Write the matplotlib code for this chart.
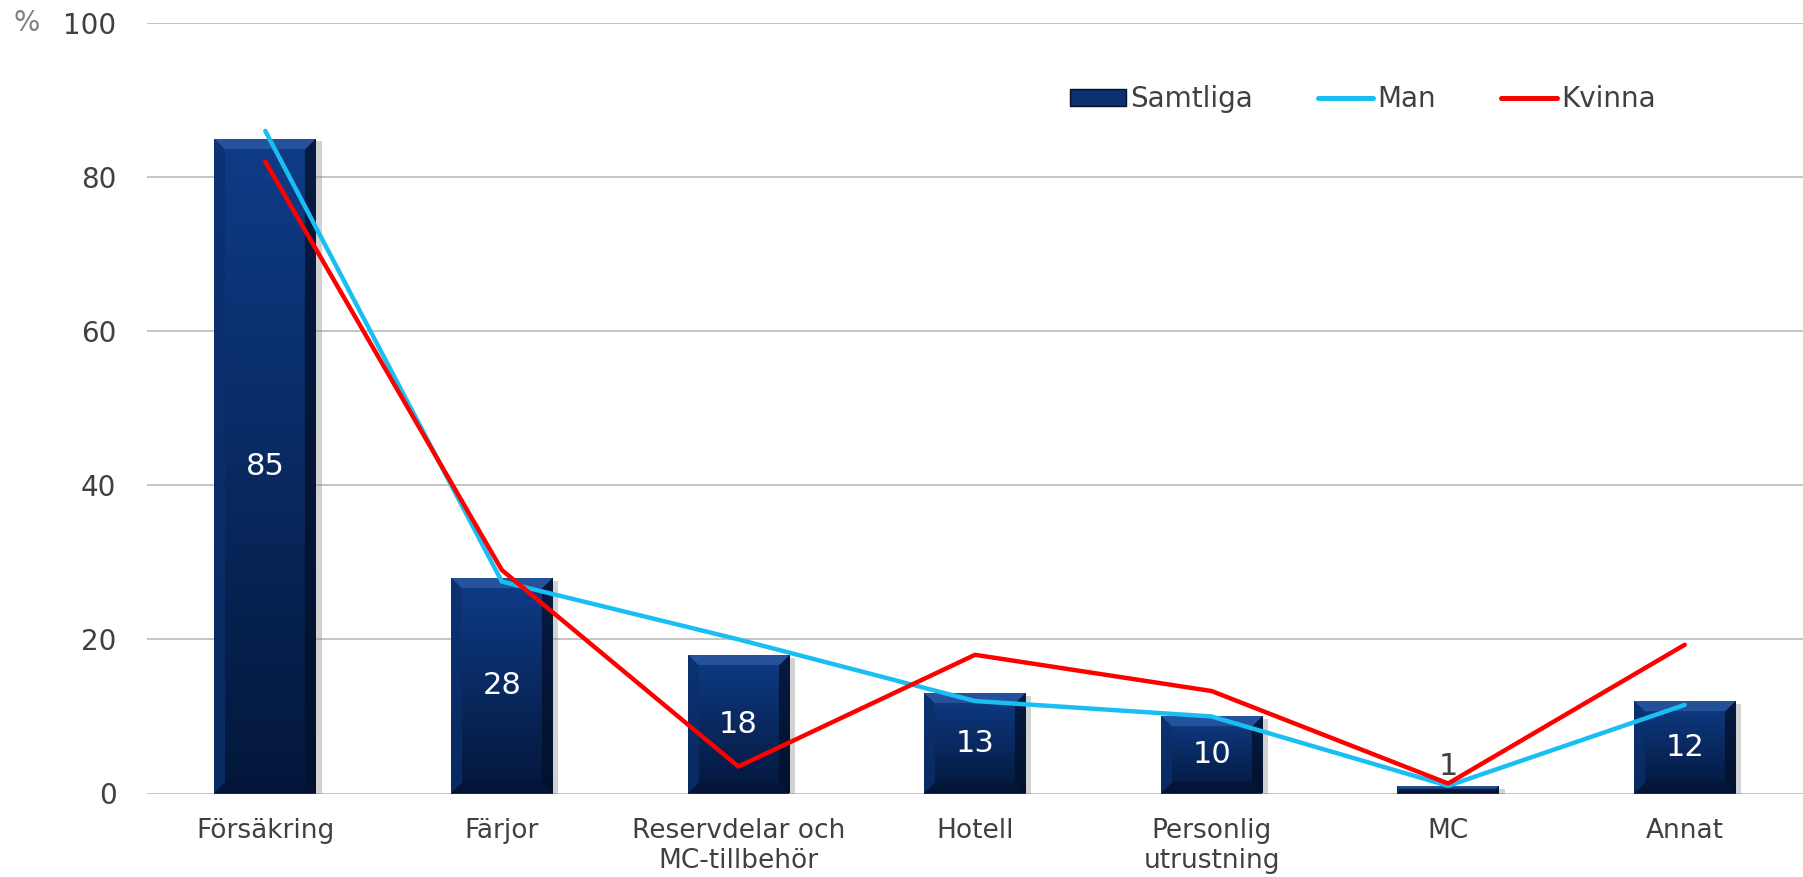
import numpy as np
import matplotlib
matplotlib.use("Agg")
import matplotlib.pyplot as plt
from matplotlib.colors import to_rgb
from matplotlib.patches import Patch
from matplotlib.lines import Line2D
import matplotlib.patheffects as pe

# data
categories = ["Försäkring", "Färjor", "Reservdelar och\nMC-tillbehör", "Hotell",
              "Personlig\nutrustning", "MC", "Annat"]
samtliga = [85, 28, 18, 13, 10, 1, 12]
man = [86, 27.5, 20, 12, 10, 1, 11.5]
kvinna = [82, 29, 3.5, 18, 13.3, 1.3, 19.3]
yticks = [0, 20, 40, 60, 80, 100]

plt.rcParams["font.family"] = ["DejaVu Sans"]
text_col = "#404040"
grid_col = "#bfbfbf"

fig = plt.figure(figsize=(18.03, 8.77), dpi=100)
ax = fig.add_axes([147 / 1803, 1 - 793.5 / 877, 1 - 147 / 1803, (793.5 - 23) / 877])
ax.set_xlim(-0.5, len(categories) - 0.5)
ax.set_ylim(0, 100)

for t in yticks:
    ax.axhline(t, color=grid_col, lw=1.3, zorder=0)

x = np.arange(len(categories))
width = 0.43
bars = ax.bar(x, samtliga, width=width, color="#0b2c68", zorder=2,
              path_effects=[pe.SimplePatchShadow(offset=(4, -2), shadow_rgbFace="#7f7f7f", alpha=0.35),
                            pe.Normal()])

# bevelled gradient fill for each bar
top_c = np.array(to_rgb("#0f3c88"))
bot_c = np.array(to_rgb("#03173a"))
bevel_top = np.array(to_rgb("#2d5aa2"))
bevel_left = np.array(to_rgb("#0b2f6c"))
bevel_right = np.array(to_rgb("#021029"))
bevel_bot = np.array(to_rgb("#041535"))
px_per_x = ax.get_position().width * fig.get_figwidth() * fig.dpi / (len(categories))
px_per_y = ax.get_position().height * fig.get_figheight() * fig.dpi / 100
for rect in bars:
    x0, w, h = rect.get_x(), rect.get_width(), rect.get_height()
    nx = max(int(w * px_per_x), 2)
    ny = max(int(h * px_per_y), 2)
    jj, ii = np.meshgrid(np.arange(nx), np.arange(ny))
    frac = ii / max(ny - 1, 1)
    img = top_c[None, None, :] * (1 - frac[..., None]) + bot_c[None, None, :] * frac[..., None]
    b = min(11, ny // 2, nx // 2)
    d = np.stack([ii, jj, nx - 1 - jj, ny - 1 - ii])
    face = np.argmin(d, axis=0)
    dmin = d.min(axis=0)
    edge = dmin < b
    for k, c in enumerate([bevel_top, bevel_left, bevel_right, bevel_bot]):
        m = edge & (face == k)
        img[m] = 0.75 * c + 0.25 * img[m]
    im = ax.imshow(img, extent=[x0, x0 + w, 0, h], origin="upper", aspect="auto",
                   interpolation="bilinear", zorder=2.1)
    im.set_clip_path(rect)

ax.plot(x, man, color="#19bff2", lw=3.2, solid_capstyle="round", zorder=3)
ax.plot(x, kvinna, color="#ff0000", lw=3.2, solid_capstyle="round", zorder=3)

for xi, v in zip(x, samtliga):
    if v >= 5:
        ax.text(xi, v / 2, str(v), color="white", fontsize=22, ha="center", va="center", zorder=4)
    else:
        ax.text(xi, v + 0.6, str(v), color=text_col, fontsize=22, ha="center", va="bottom", zorder=4)

ax.set_xticks(x)
ax.set_xticklabels(categories, fontsize=19, color=text_col, linespacing=1.15)
ax.set_yticks(yticks)
ax.set_yticklabels([str(t) for t in yticks], fontsize=20, color=text_col)
ax.tick_params(axis="both", length=0)
ax.tick_params(axis="y", pad=22)
ax.tick_params(axis="x", pad=18)
for s in ax.spines.values():
    s.set_visible(False)

fig.text(27 / 1803, 1 - 23 / 877, "%", fontsize=20, color="#808080", ha="center", va="center")

handles = [Patch(facecolor="#0d3070", edgecolor="#02102a", linewidth=1.0),
           Line2D([], [], color="#19bff2", lw=3.6, solid_capstyle="round"),
           Line2D([], [], color="#ff0000", lw=3.6, solid_capstyle="round")]
fig.legend(handles, ["Samtliga", "Man", "Kvinna"], loc="center left",
           bbox_to_anchor=(1070 / 1803, 1 - 99 / 877), ncol=3, frameon=False,
           fontsize=20, handlelength=2.0, handleheight=0.55, handletextpad=0.15,
           columnspacing=2.35, borderpad=0, borderaxespad=0, labelcolor=text_col)

fig.savefig("out.png", dpi=100)
